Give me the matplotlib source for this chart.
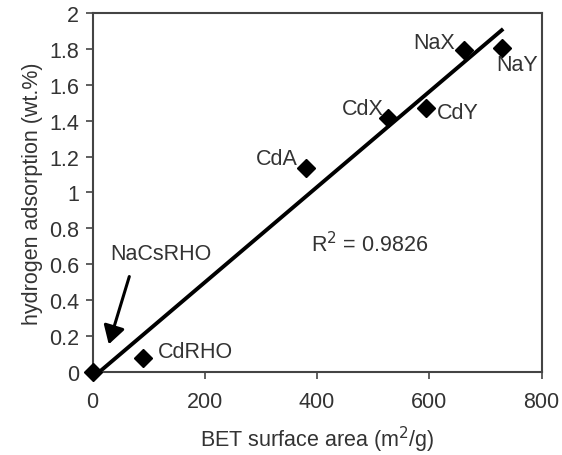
import numpy as np
import matplotlib
matplotlib.use("Agg")
import matplotlib.pyplot as plt

plt.rcParams['font.family'] = ['Liberation Sans', 'DejaVu Sans']

names = ['NaCsRHO', 'CdRHO', 'CdA', 'CdX', 'CdY', 'NaX', 'NaY']
bet_area = [0, 90, 381, 527, 595, 662, 729]
h2_ads = [0.0, 0.075, 1.135, 1.415, 1.47, 1.795, 1.807]

# label positions (data coords) and alignment
label_pos = {
    'CdRHO': (117, 0.112, 'left'),
    'CdA': (366, 1.187, 'right'),
    'CdX': (519, 1.47, 'right'),
    'CdY': (614, 1.443, 'left'),
    'NaX': (645, 1.835, 'right'),
    'NaY': (720, 1.714, 'left'),
}

txt = '#333333'
fs = 15.5
fig = plt.figure(figsize=(5.62, 4.56), dpi=100)
ax = fig.add_axes([0.1646, 0.183, 0.799, 0.786])

ax.plot(bet_area, h2_ads, 'D', color='black', markersize=9, clip_on=False, zorder=3)

# linear trendline
slope, icpt = np.polyfit(bet_area, h2_ads, 1)
xs = np.array([0, max(bet_area)])
ax.plot(xs, slope * xs + icpt, color='black', lw=2.8, zorder=2)

for n, (x, y, ha) in label_pos.items():
    ax.text(x, y, n, ha=ha, va='center', fontsize=fs, color=txt)

ax.text(31, 0.656, 'NaCsRHO', fontsize=fs, color=txt, ha='left', va='center')
ax.annotate('', xy=(27.5, 0.137), xytext=(67, 0.545),
            arrowprops=dict(arrowstyle='-|>,head_width=0.65,head_length=1.1',
                            color='black', lw=2.2))

ax.text(390, 0.712, 'R$^2$ = 0.9826', fontsize=fs, color=txt, ha='left', va='center')

ax.set_xlim(0, 800)
ax.set_ylim(0, 2)
ax.set_xticks([0, 200, 400, 600, 800])
ax.set_yticks(np.arange(0, 2.01, 0.2))
ax.set_yticklabels(['0', '0.2', '0.4', '0.6', '0.8', '1', '1.2', '1.4', '1.6', '1.8', '2'])
ax.tick_params(labelsize=fs, labelcolor=txt, length=4.7, width=1.2, color='#444444')
ax.tick_params(axis='x', pad=9)
ax.tick_params(axis='y', pad=5)
for s in ax.spines.values():
    s.set_linewidth(1.5)
    s.set_color('#444444')

ax.set_xlabel('BET surface area (m$^2$/g)', fontsize=fs, color=txt, labelpad=9)
ax.set_ylabel('hydrogen adsorption (wt.%)', fontsize=fs, color=txt, labelpad=4)

fig.savefig('out.png', dpi=100)
